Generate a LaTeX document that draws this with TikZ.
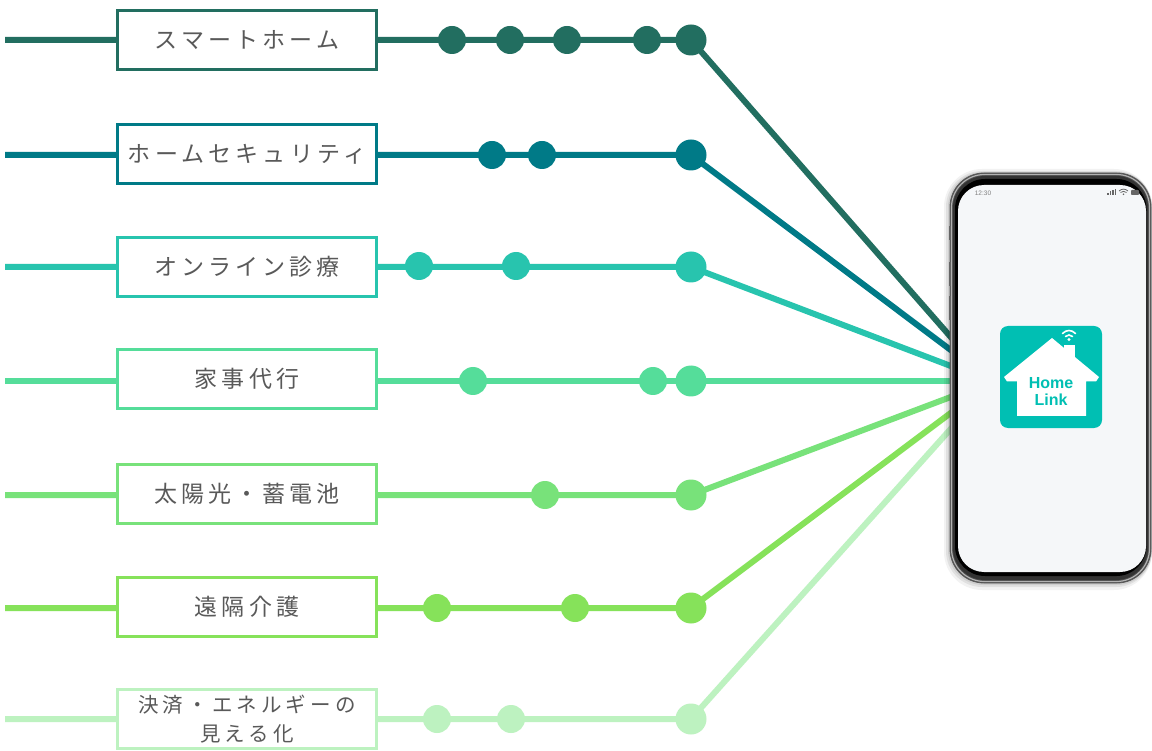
\documentclass[tikz,border=0pt]{standalone}
\usepackage{fontspec}
\newfontfamily\jp{Noto Sans CJK JP}[LetterSpace=18]
\newfontfamily\jpsm{Noto Sans CJK JP}[LetterSpace=20]
\newfontfamily\hl{Liberation Sans}
\definecolor{cA}{HTML}{226E60}
\definecolor{cB}{HTML}{007A87}
\definecolor{cC}{HTML}{28C4AE}
\definecolor{cD}{HTML}{55DD9A}
\definecolor{cE}{HTML}{78E27A}
\definecolor{cF}{HTML}{86E25A}
\definecolor{cG}{HTML}{BDF2C0}
\definecolor{txt}{HTML}{595959}
\definecolor{iconc}{HTML}{00BFB3}
\definecolor{screen}{HTML}{F5F7F9}
\pgfdeclarelayer{bg}
\pgfdeclarelayer{lines}
\pgfsetlayers{bg,lines,main}
\tikzset{
  lbl/.style={draw=#1, fill=white, line width=3pt, minimum width=259pt, minimum height=59pt,
    inner sep=0pt, text=txt, font=\jp\fontsize{23}{26}\selectfont, align=center},
  dot/.style={circle, fill=#1, minimum size=28pt, inner sep=0pt},
  enddot/.style={circle, fill=#1, minimum size=31pt, inner sep=0pt},
  conn/.style={draw=#1, line width=6pt, line join=round},
}
\begin{document}
\begin{tikzpicture}[x=1pt,y=-1pt]
\useasboundingbox (0,0) rectangle (1152,751);
\begin{pgfonlayer}{bg}
\fill[white] (0,0) rectangle (1152,751);
\end{pgfonlayer}

% ---------- row 1
\coordinate (s1) at (5,40);
\node[lbl=cA] (b1) at (247,40) {スマートホーム};
\node[dot=cA] (d11) at (452,40) {};
\node[dot=cA] (d12) at (510,40) {};
\node[dot=cA] (d13) at (567,40) {};
\node[dot=cA] (d14) at (647,40) {};
\node[enddot=cA] (e1) at (691,40) {};
\coordinate (p1) at (956,343);
% ---------- row 2
\coordinate (s2) at (5,155);
\node[lbl=cB] (b2) at (247,154) {ホームセキュリティ};
\node[dot=cB] (d21) at (492,155) {};
\node[dot=cB] (d22) at (542,155) {};
\node[enddot=cB] (e2) at (691,155) {};
\coordinate (p2) at (956,354);
% ---------- row 3
\coordinate (s3) at (5,267);
\node[lbl=cC] (b3) at (247,267) {オンライン診療};
\node[dot=cC] (d31) at (419,266) {};
\node[dot=cC] (d32) at (516,266) {};
\node[enddot=cC] (e3) at (691,267) {};
\coordinate (p3) at (956,368);
% ---------- row 4
\coordinate (s4) at (5,381);
\node[lbl=cD] (b4) at (247,379) {家事代行};
\node[dot=cD] (d41) at (473,381) {};
\node[dot=cD] (d42) at (653,381) {};
\node[enddot=cD] (e4) at (691,381) {};
\coordinate (p4) at (956,381);
% ---------- row 5
\coordinate (s5) at (5,495);
\node[lbl=cE] (b5) at (247,494) {太陽光・蓄電池};
\node[dot=cE] (d51) at (545,495) {};
\node[enddot=cE] (e5) at (691,495) {};
\coordinate (p5) at (956,395);
% ---------- row 6
\coordinate (s6) at (5,608);
\node[lbl=cF] (b6) at (247,607) {遠隔介護};
\node[dot=cF] (d61) at (437,608) {};
\node[dot=cF] (d62) at (575,608) {};
\node[enddot=cF] (e6) at (691,608) {};
\coordinate (p6) at (956,409);
% ---------- row 7
\coordinate (s7) at (5,719);
\node[lbl=cG, font=\jpsm\fontsize{20.5}{29}\selectfont] (b7) at (247,719) {決済・エネルギーの\\見える化};
\node[dot=cG] (d71) at (437,719) {};
\node[dot=cG] (d72) at (511,719) {};
\node[enddot=cG] (e7) at (691,719) {};
\coordinate (p7) at (956,423);

\begin{pgfonlayer}{lines}
\draw[conn=cA] (s1) -- (b1.west) (b1.east) -- (e1.center) -- (p1);
\draw[conn=cB] (s2) -- (b2.west |- s2) (b2.east |- s2) -- (e2.center) -- (p2);
\draw[conn=cC] (s3) -- (b3.west) (b3.east) -- (e3.center) -- (p3);
\draw[conn=cD] (s4) -- (b4.west |- s4) (b4.east |- s4) -- (e4.center) -- (p4);
\draw[conn=cE] (s5) -- (b5.west |- s5) (b5.east |- s5) -- (e5.center) -- (p5);
\draw[conn=cF] (s6) -- (b6.west |- s6) (b6.east |- s6) -- (e6.center) -- (p6);
\draw[conn=cG] (s7) -- (b7.west) (b7.east) -- (e7.center) -- (p7);
\end{pgfonlayer}

% ---------- phone
\fill[black, opacity=0.05, rounded corners=38pt] (944,169) rectangle (1152,590);
\fill[black, opacity=0.07, rounded corners=36pt] (946,171) rectangle (1152,587);
\fill[black, opacity=0.08, rounded corners=35pt] (948,172) rectangle (1152,585);
\fill[gray!60!black, draw=gray!70!black, line width=0.8pt, rounded corners=34pt] (950,173) rectangle (1151,583);
\draw[gray!60, line width=1.2pt, rounded corners=33pt] (951.5,174.5) rectangle (1149.5,581.5);
\fill[black!80, rounded corners=32pt] (953,176) rectangle (1148,580);
\fill[black, rounded corners=30pt] (955,179) rectangle (1146.5,576);
\fill[screen, rounded corners=26pt] (958,185) rectangle (1146,572);
% side buttons
\fill[black!60] (949,226) rectangle (951,240);
\fill[black!60] (949,262) rectangle (951,286);
\fill[black!60] (949,296) rectangle (951,320);

% status bar
\node[font=\hl\fontsize{6.5}{7}\selectfont, text=gray, inner sep=0pt] (clock) at (983,193) {12:30};
\fill[gray!80!black] (1107,193) rectangle (1108.5,195);
\fill[gray!80!black] (1109.5,191.5) rectangle (1111,195);
\fill[gray!80!black] (1112,190) rectangle (1113.5,195);
\fill[gray!80!black] (1114.5,189) rectangle (1116,195);
\draw[gray!80!black, line width=0.8pt] (1119,191) .. controls (1122,188.5) and (1125,188.5) .. (1128,191);
\draw[gray!80!black, line width=0.8pt] (1120.5,192.5) .. controls (1122.5,191) and (1124.5,191) .. (1126.5,192.5);
\fill[gray!80!black] (1123.5,194.3) circle[radius=0.9pt];
\fill[gray!80!black, rounded corners=0.8pt] (1131,190) rectangle (1139,195);

% app icon
\fill[iconc, rounded corners=8pt] (1000,326) rectangle (1102,428);
\fill[white] (1052,338) -- (1099,377) -- (1096,381.5) -- (1086,381.5) -- (1086,416) -- (1017,416)
  -- (1017,381.5) -- (1007,381.5) -- (1004,377) -- cycle;
\fill[white] (1064,345) rectangle (1075,372);
\draw[white, line width=1.6pt, line cap=round] (1062.5,333.5) .. controls (1066.5,329.5) and (1071.5,329.5) .. (1075.5,333.5);
\draw[white, line width=1.6pt, line cap=round] (1065.5,336.5) .. controls (1067.5,334.5) and (1070.5,334.5) .. (1072.5,336.5);
\fill[white] (1069,339.5) circle[radius=1.6pt];
\node[font=\hl\bfseries\fontsize{16}{17}\selectfont, text=iconc, inner sep=0pt, anchor=base] (home) at (1051,389) {Home};
\node[font=\hl\bfseries\fontsize{16}{17}\selectfont, text=iconc, inner sep=0pt, anchor=base] (link) at (1051,406) {Link};
\end{tikzpicture}
\end{document}
